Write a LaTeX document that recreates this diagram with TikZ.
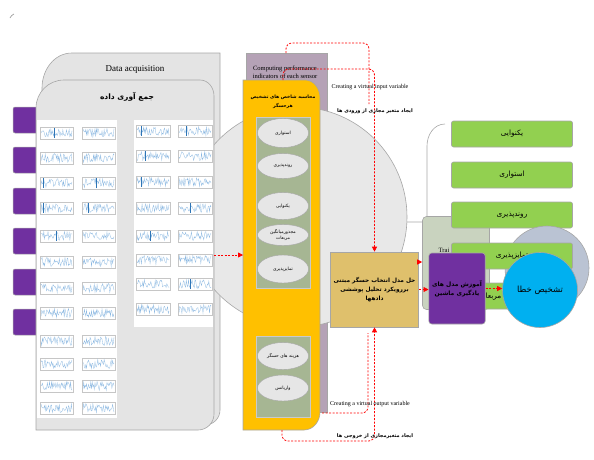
\documentclass[tikz,border=0pt]{standalone}
\usepackage{fontspec}
\setmainfont{Liberation Serif}
\newfontfamily\fa[Script=Arabic]{DejaVu Sans}
\TeXXeTstate=1
\usetikzlibrary{arrows.meta,shapes.geometric}

\definecolor{panelgray}{HTML}{E4E4E4}
\definecolor{edgegray}{HTML}{A6A6A6}
\definecolor{mauve}{HTML}{B5A2B6}
\definecolor{amber}{HTML}{FFC000}
\definecolor{sage}{HTML}{A6B693}
\definecolor{ovalgray}{HTML}{E6E6E6}
\definecolor{deatan}{HTML}{DFC06C}
\definecolor{lightsage}{HTML}{C9D3BF}
\definecolor{leaf}{HTML}{92D050}
\definecolor{slate}{HTML}{BAC3D3}
\definecolor{sky}{HTML}{00B0F0}
\definecolor{mlpurple}{HTML}{7030A0}
\definecolor{sigblue}{HTML}{8DB9E2}
\definecolor{spikeblue}{HTML}{2E75B6}

\newcommand{\fatext}[1]{{\fa\beginR #1\endR}}

\begin{document}
\begin{tikzpicture}[x=1pt,y=-1pt,
  panel/.style={draw=edgegray,fill=panelgray,line width=0.6pt},
  tab/.style={draw=edgegray,fill=mlpurple,rounded corners=2pt,line width=0.5pt},
  plotframe/.style={draw=gray!45,line width=0.2pt},
  signal/.style={sigblue,line width=0.3pt},
  spike/.style={spikeblue,line width=0.5pt},
  sagebox/.style={draw=edgegray!60,fill=sage,line width=0.4pt},
  oval/.style={ellipse,draw=edgegray,fill=ovalgray,minimum width=51pt,minimum height=27pt,inner sep=0pt,align=center,font=\fontsize{4.5}{6}\selectfont},
  greenrow/.style={draw=edgegray,fill=leaf,rounded corners=2pt,minimum width=121pt,minimum height=26pt,line width=0.6pt,font=\fontsize{7.3}{8}\selectfont},
  flow/.style={red,dash pattern=on 2pt off 1.5pt,line width=0.8pt,-{Triangle[length=5pt,width=5pt]}},
  flowend/.style={red,dash pattern=on 2pt off 1.5pt,line width=0.8pt},
  note/.style={font=\fontsize{6}{7}\selectfont},
  fanote/.style={font=\fontsize{5}{6}\selectfont\bfseries},
]

  \useasboundingbox (0,0) rectangle (594,459);

  \draw[edgegray,line width=0.8pt] (10,18) to[out=60,in=200] (14,14);

  \draw[draw=edgegray,fill=mauve,line width=0.5pt] (246,53) rectangle (327,412);
  \node[font=\fontsize{6.5}{7.5}\selectfont,align=center] (perftext) at (285,72) {Computing performance\\indicators of each sensor};

  \draw[panel] (42,420) -- (42,88) to[out=90,in=180] (72,53) -- (220,53) -- (220,410) to[out=270,in=0] (205,425) -- cycle;
  \node[font=\fontsize{9}{10}\selectfont] (acqtitle) at (135,69) {Data acquisition};

  \draw[draw=edgegray,fill=ovalgray!90!white,line width=0.6pt] (297,217) circle [radius=110];

  \foreach \ty in {107,147,188,228,269,309}
    \draw[tab] (13,\ty) rectangle (40,{\ty+26});

  \draw[panel] (36,430) -- (36,108) to[out=90,in=180] (64,80) -- (200,80) to[out=0,in=90] (214,96) -- (214,414) to[out=270,in=0] (198,430) -- cycle;
  \node[font=\fontsize{7.5}{9}\selectfont\bfseries] (acqfa) at (127,97) {\fatext{جمع آوری داده}};

  \fill[white] (37,120) rectangle (117,418);
  \fill[white] (134,120) rectangle (213,327);
  \pgfmathsetseed{11}
  \foreach \py in {127,152,177,202,230,256,282,307,335,358,380,402}{
    \foreach \px in {40,82}{
      \draw[plotframe] (\px,\py) rectangle ++(33,12);
      \draw[signal] plot[domain=1:32,samples=45] ({\px+\x},{\py+6+4.5*rand});
    }
  }
  \foreach \py in {125,150,176,202,230,254,278,303}{
    \foreach \px in {136,178}{
      \draw[plotframe] (\px,\py) rectangle ++(34,12);
      \draw[signal] plot[domain=1:33,samples=45] ({\px+\x},{\py+6+4.5*rand});
    }
  }
  \foreach \px/\py in {43/177,43/202,54/127,96/177,88/202,56/230,141/125,145/150,141/176,190/202,186/125,150/230,190/278}
    \draw[spike] (\px,{\py+1}) -- (\px,{\py+11});

  \coordinate (acqout) at (214,255);
  \coordinate (ordin) at (243,255);

  \draw[draw=edgegray,fill=amber,line width=0.6pt] (243,430) -- (243,80) -- (305,80) to[out=0,in=90] (320,98) -- (320,412) to[out=270,in=0] (304,430) -- cycle;
  \node[font=\fontsize{4.6}{9}\selectfont\bfseries,align=center] (ordtitle) at (283,102) {\fatext{محاسبه شاخص های تشخیص}\\\fatext{هرحسگر}};

  \draw[sagebox] (256,117) rectangle (310,288);
  \draw[sagebox] (256,336) rectangle (310,417);

  \node[oval,minimum height=29pt] (o1) at (283,133) {\fatext{استواری}};
  \node[oval,minimum height=25pt] (o2) at (283,166) {\fatext{روندپذیری}};
  \node[oval] (o3) at (283,206) {\fatext{یکنوایی}};
  \node[oval,minimum height=21pt] (o4) at (283,235) {\fatext{مجذورمیانگین}\\\fatext{مربعات}};
  \node[oval,minimum height=28pt] (o5) at (283,269) {\fatext{تمایزپذیری}};
  \node[oval] (o6) at (283,356) {\fatext{هزینه های حسگر}};
  \node[oval,minimum height=26pt] (o7) at (283,388) {\fatext{واریانس}};

  \coordinate (perftop) at (286,53);
  \coordinate (perfmid) at (283,80);
  \coordinate (ordlow) at (322,413);
  \coordinate (ordbottom) at (282,430);

  \draw[edgegray,line width=0.6pt] (445,124) to[out=180,in=90] (427,146) -- (427,222) -- (407,222);

  \node[draw=edgegray,fill=lightsage,rounded corners=4pt,minimum width=67pt,minimum height=93pt,line width=0.6pt] (train) at (456,263) {};
  \node[font=\fontsize{6.5}{7}\selectfont] (traintext) at (444,250) {Trai};

  \node[greenrow] (g1) at (512,134) {\fatext{یکنوایی}};
  \node[greenrow] (g2) at (512,175) {\fatext{استواری}};
  \node[greenrow] (g3) at (512,215) {\fatext{روندپذیری}};
  \draw[draw=edgegray,fill=slate,line width=0.6pt] (547,268) circle [radius=42];
  \node[greenrow] (g4) at (512,256) {\fatext{تمایزپذیری}};
  \node[greenrow] (g5) at (512,296) {\fatext{مجذورمیانگین مربعات}};

  \node[draw=edgegray,fill=deatan,minimum width=85pt,minimum height=75pt,line width=0.6pt,align=center,font=\fontsize{5.8}{9}\selectfont\bfseries] (dea) at (374.5,289.5) {\fatext{حل مدل انتخاب حسگر مبتنی}\\\fatext{بررویکرد تحلیل پوششی}\\\fatext{دادهها}};

  \node[draw=edgegray,fill=mlpurple,rounded corners=3pt,minimum width=51pt,minimum height=71pt,line width=0.6pt,align=center,font=\fontsize{6}{9}\selectfont\bfseries] (ml) at (457,288.5) {\fatext{آموزش مدل های}\\\fatext{یادگیری ماشین}};

  \node[circle,draw=edgegray,fill=sky,minimum size=75pt,line width=0.6pt,font=\fontsize{8.5}{10}\selectfont] (fault) at (540,290) {\fatext{تشخیص خطا}};

  \draw[flow] (acqout) -- (ordin);

  \draw[flowend,rounded corners=6pt] (perftop) -- (286,43) -- (369,43) -- (369,104);
  \draw[flow,rounded corners=6pt] (perfmid) -- (283,69) -- (374.5,69) -- (dea.north);

  \draw[flowend,rounded corners=6pt] (ordlow) -- (368,413) -- (368,333);
  \draw[flow,rounded corners=6pt] (ordbottom) -- (282,441) -- (374.5,441) -- (dea.south);

  \coordinate (deaup) at ([yshift=27.5pt]dea.east);
  \draw[flow] (deaup) -- (deaup -| train.west);
  \draw[flow] (dea.east) -- (dea.east -| ml.west);
  \draw[flow] (ml.east) -- (ml.east -| fault.west);

  \node[note] (ininfo) at (370,87) {Creating a virtual input variable};
  \node[fanote] (infa) at (375,111) {\fatext{ایجاد متغیر مجازی از ورودی ها}};
  \node[note] (outinfo) at (370,404) {Creating a virtual output variable};
  \node[fanote] (outfa) at (375,436) {\fatext{ایجاد متغیرمجازی از خروجی ها}};

\end{tikzpicture}
\end{document}
